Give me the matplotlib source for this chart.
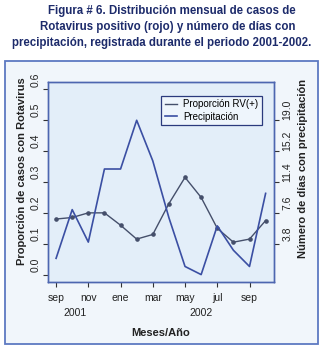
import matplotlib
matplotlib.use('Agg')
import matplotlib.pyplot as plt
from matplotlib.patches import Rectangle
from matplotlib.lines import Line2D
from matplotlib.transforms import ScaledTranslation

plt.rcParams['font.family'] = ['Liberation Sans', 'DejaVu Sans']

# ---- data (sep 2001 .. oct 2002) ----
months = list(range(14))
proporcion = [0.18, 0.185, 0.20, 0.20, 0.16, 0.115, 0.13, 0.23, 0.315, 0.25, 0.15, 0.105, 0.115, 0.175]
precipitacion = [2, 8, 4, 13, 13, 19, 14, 7, 1, 0, 6, 3, 1, 10]
tick_pos = [0, 2, 4, 6, 8, 10, 12]
tick_labels = ['sep', 'nov', 'ene', 'mar', 'may', 'jul', 'sep']
left_ticks = [0.0, 0.1, 0.2, 0.3, 0.4, 0.5, 0.6]
right_ticks = [3.8, 7.6, 11.4, 15.2, 19.0]
year_labels = ['2001', '2002']
year_pos = [1.15, 9.0]
legend_labels = ['Proporción RV(+)', 'Precipitación']
title_lines = ['Figura # 6. Distribución mensual de casos de',
               'Rotavirus positivo (rojo) y número de días con',
               'precipitación, registrada durante el periodo 2001-2002.']

W, H = 325, 349
fig = plt.figure(figsize=(W / 100, H / 100), dpi=100)
fig.patch.set_facecolor('white')

def fx(x):
    return x / W

def fy(y):
    return 1 - y / H

# outer panel frame
fig.patches.append(Rectangle((fx(5), fy(344)), (318 - 5) / W, (344 - 61) / H,
                             transform=fig.transFigure, facecolor='#f1f6fb',
                             edgecolor='#5d79c2', lw=1.3, zorder=-5))

# title
title_x = [172, 168, 162]
title_y = [11, 27, 43]
for t, x, y in zip(title_lines, title_x, title_y):
    fig.text(fx(x), fy(y), t, ha='center', va='center', fontsize=8.3,
             fontweight='bold', color='#1d2b6b')

ax = fig.add_axes([fx(47.7), fy(282), (274 - 47.7) / W, 200 / H])
ax.set_facecolor('#e3eef9')
l1, = ax.plot(months, proporcion, color='#454f6b', lw=1.0, marker='o', ms=2.3)
ax.set_xlim(-0.52, 13.52)
ax.set_ylim(-0.024, 0.624)

ax2 = ax.twinx()
l2, = ax2.plot(months, precipitacion, color='#3b4fa3', lw=1.2)
ax2.set_ylim(-0.024 * 38, 0.624 * 38)

for a in (ax, ax2):
    for s in a.spines.values():
        s.set_color('#4d66b0')
        s.set_linewidth(1.0)

ax.set_xticks(tick_pos, tick_labels)
ax.set_yticks(left_ticks, [f'{v:.1f}' for v in left_ticks])
ax2.set_yticks(right_ticks, [f'{v:.1f}' for v in right_ticks])

ax.tick_params(axis='x', direction='out', length=3.6, width=0.8, color='#333333',
               labelsize=7.5, labelcolor='#222222', pad=4)
ax.tick_params(axis='y', direction='out', length=3.6, width=0.8, color='#333333',
               labelsize=7.5, labelcolor='#222222', pad=1.5, labelrotation=90)
ax2.tick_params(axis='y', direction='out', length=3.6, width=0.8, color='#333333',
                labelsize=7.5, labelcolor='#222222', pad=2.5, labelrotation=90)

shift = ScaledTranslation(0, 10 / 100, fig.dpi_scale_trans)
for lbl in ax.get_yticklabels():
    lbl.set_verticalalignment('center')
    lbl.set_transform(lbl.get_transform() + shift)
for lbl in ax2.get_yticklabels():
    lbl.set_verticalalignment('center')
    lbl.set_transform(lbl.get_transform() + shift)

# year labels under the month ticks (axes-fraction y)
for yl, xp in zip(year_labels, year_pos):
    ax.text(xp, -0.155, yl, transform=ax.get_xaxis_transform(),
            ha='center', va='center', fontsize=7.5, color='#222222')

fig.text(fx(161), fy(332.5), 'Meses/Año', ha='center', va='center', fontsize=8,
         fontweight='bold', color='#222222')
fig.text(fx(22), fy(171), 'Proporción de casos con Rotavirus', rotation=90,
         ha='center', va='center', fontsize=8, fontweight='bold', color='#222222')
fig.text(fx(303.5), fy(168), 'Número de días con precipitación', rotation=90,
         ha='center', va='center', fontsize=8, fontweight='bold', color='#222222')

leg_handles = [Line2D([], [], color='#454f6b', lw=1.0),
               Line2D([], [], color='#3b4fa3', lw=1.2)]
leg = fig.legend(leg_handles, legend_labels, loc='upper right',
                 bbox_to_anchor=(fx(261.7), fy(96)), bbox_transform=fig.transFigure,
                 fontsize=7, frameon=True, fancybox=False, framealpha=1,
                 handlelength=1.3, handletextpad=0.6, borderpad=0.35,
                 labelspacing=0.25, borderaxespad=0)
leg.get_frame().set_edgecolor('#2b3a7d')
leg.get_frame().set_facecolor('#eef5fc')
leg.get_frame().set_linewidth(0.9)

fig.savefig('out.png', dpi=100)
